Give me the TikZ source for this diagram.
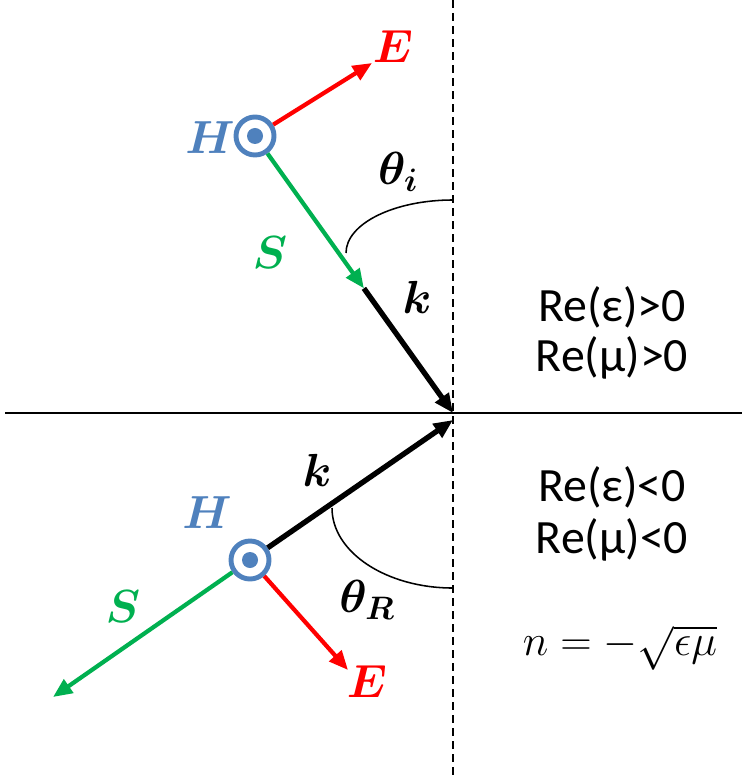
\documentclass[tikz,border=0pt]{standalone}
\usepackage{fix-cm}
\usepackage{amsmath,bm}
\usepackage{fontspec}
\setmainfont{Carlito}
\usetikzlibrary{arrows.meta, calc}
\definecolor{fieldRed}{RGB}{255,0,0}
\definecolor{fieldGreen}{RGB}{0,176,80}
\definecolor{fieldBlue}{RGB}{79,129,189}
\tikzset{
  vec/.style={line width=3pt, -{Triangle[length=4.8mm, width=4mm]}},
  wavevec/.style={vec, line width=3.8pt},
  hfield/.style={circle, draw=fieldBlue, line width=3.5pt, fill=white,
                 minimum size=0.95cm, inner sep=0pt},
  sym/.style={font=\fontsize{33}{33}\selectfont, inner sep=0pt},
  medium/.style={font=\fontsize{34}{40}\selectfont, inner sep=0pt},
  angarc/.style={line width=1.1pt},
}

\begin{document}
\begin{tikzpicture}[x=0.025cm, y=-0.025cm]
  \useasboundingbox (0,0) rectangle (742,780);
  % ================= interface =================
  \coordinate (O) at (453,413);
  \coordinate (Ob) at (453,420);
  \draw[line width=1.7pt, dash pattern=on 0.2cm off 0.125cm] (453,0) -- (453,780);
  \draw[line width=2pt] (5,413) -- (742,413);
  % ================= incident wave (top) =================
  \node[hfield] (h1) at (255,136) {};
  \fill[fieldBlue] (h1.center) circle (0.2cm);
  \coordinate (e1tip) at (372,63);
  \coordinate (s1tip) at ($(h1.center)!0.55!(O)$);
  \draw[vec, fieldRed] (h1) -- (e1tip);
  \draw[vec, fieldGreen] (h1) -- (s1tip);
  \draw[wavevec] (s1tip) -- (O);
  \draw[angarc] (346,253) arc[start angle=180, end angle=90,
                             x radius=2.675cm, y radius=1.325cm];
  \node[sym, fieldRed] (e1lab) at (393,47) {$\bm{E}$};
  \node[sym, fieldBlue] (h1lab) at (210,138) {$\bm{H}$};
  \node[sym, fieldGreen] (s1lab) at (270,253) {$\bm{S}$};
  \node[sym] (k1lab) at (417,297) {$\bm{k}$};
  \node[sym] (thetai) at (398,172) {$\bm{\theta}_{\bm{i}}$};
  % ================= refracted wave (bottom) =================
  \node[hfield] (h2) at (250,560) {};
  \fill[fieldBlue] (h2.center) circle (0.2cm);
  \coordinate (s2tip) at (53,697);
  \coordinate (e2tip) at (348,670);
  \draw[wavevec] (h2) -- (Ob);
  \draw[vec, fieldGreen] (h2) -- (s2tip);
  \draw[vec, fieldRed] (h2) -- (e2tip);
  \draw[angarc] (332,508) arc[start angle=180, end angle=270,
                             x radius=3.025cm, y radius=2cm];
  \node[sym] (k2lab) at (317,470) {$\bm{k}$};
  \node[sym, fieldBlue] (h2lab) at (207,513) {$\bm{H}$};
  \node[sym, fieldGreen] (s2lab) at (123,607) {$\bm{S}$};
  \node[sym, fieldRed] (e2lab) at (367,682) {$\bm{E}$};
  \node[sym] (thetaR) at (367,600) {$\bm{\theta}_{\bm{R}}$};
  % ================= media =================
  \node[medium] (eps1) at (612,307) {Re(ε)>0};
  \node[medium] (mu1) at (612,358) {Re(μ)>0};
  \node[medium] (eps2) at (612,487) {Re(ε)<0};
  \node[medium] (mu2) at (612,540) {Re(μ)<0};
  \node[font=\fontsize{31}{31}\selectfont, inner sep=0pt] (nform) at (620,648)
    {$n=-\sqrt{\epsilon\mu}$};
\end{tikzpicture}
\end{document}
